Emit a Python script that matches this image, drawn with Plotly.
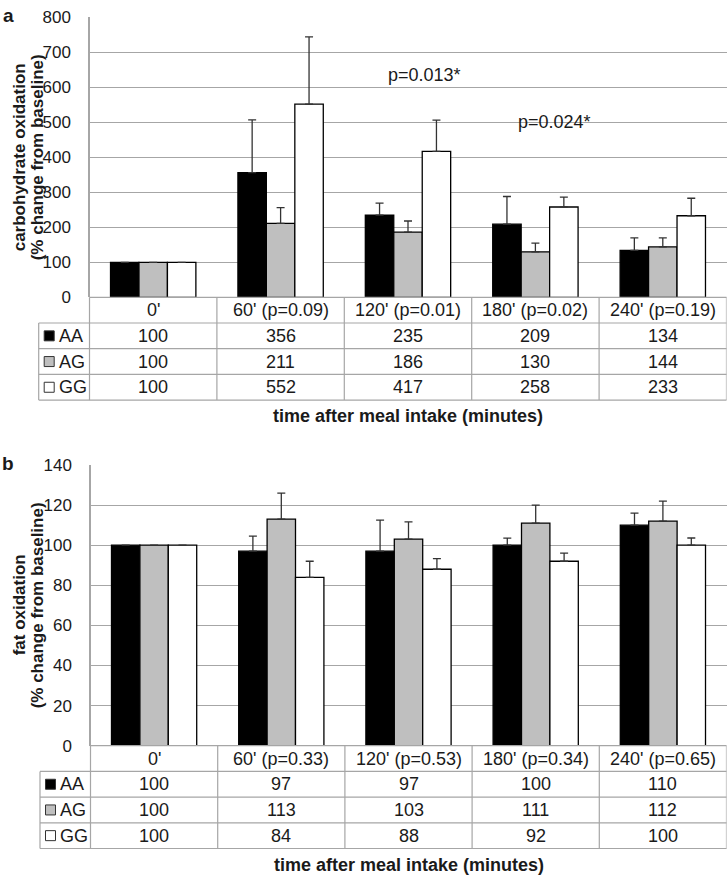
import plotly.graph_objects as go

# ---------------- data ----------------
time_points = ["0'", "60'", "120'", "180'", "240'"]
genotypes = ["AA", "AG", "GG"]

# panel a: carbohydrate oxidation
carb_pvals = ["", "0.09", "0.01", "0.02", "0.19"]
carb_AA = [100, 356, 235, 209, 134]
carb_AG = [100, 211, 186, 130, 144]
carb_GG = [100, 552, 417, 258, 233]
carb_AA_err = [0, 151, 34, 79, 36]
carb_AG_err = [0, 45, 32, 25, 26]
carb_GG_err = [0, 192, 89, 28, 50]

# panel b: fat oxidation
fat_pvals = ["", "0.33", "0.53", "0.34", "0.65"]
fat_AA = [100, 97, 97, 100, 110]
fat_AG = [100, 113, 103, 111, 112]
fat_GG = [100, 84, 88, 92, 100]
fat_AA_err = [0, 7.5, 15.5, 3.5, 6]
fat_AG_err = [0, 13, 8.6, 9, 10]
fat_GG_err = [0, 8, 5.3, 4, 3.6]

# ---------------- styling / layout constants ----------------
W, H = 728, 875
FONT = "Liberation Sans, Arial, sans-serif"
TXT = "#1a1a1a"
GRID = "#a6a6a6"
FILLS = {"AA": "#000000", "AG": "#bfbfbf", "GG": "#ffffff"}
ROW_H = 25.7


def px(xp):
    return xp / W


def py(yp):
    return 1 - yp / H


def ann(**kw):
    d = dict(showarrow=False, xanchor="center", yanchor="middle")
    d.update(kw)
    return d


panels = [
    dict(letter="a", xa="x", ya="y", top=17.3, bottom=297.3, left=89.5, right=726.5,
         tleft=38.7, yrange=[0, 800], dtick=100,
         ytitle=["carbohydrate oxidation", "(% change from baseline)"],
         series=[carb_AA, carb_AG, carb_GG],
         errs=[carb_AA_err, carb_AG_err, carb_GG_err], pvals=carb_pvals),
    dict(letter="b", xa="x2", ya="y2", top=465.0, bottom=745.7, left=90.5, right=726.5,
         tleft=40.0, yrange=[0, 140], dtick=20,
         ytitle=["fat oxidation", "(% change from baseline)"],
         series=[fat_AA, fat_AG, fat_GG],
         errs=[fat_AA_err, fat_AG_err, fat_GG_err], pvals=fat_pvals),
]

fig = go.Figure()
shapes = []
annotations = []

for k, p in enumerate(panels):
    sfx = "" if k == 0 else "2"
    for g, vals, err in zip(genotypes, p["series"], p["errs"]):
        fig.add_trace(go.Bar(
            x=time_points, y=vals, name=g, xaxis=p["xa"], yaxis=p["ya"],
            marker=dict(color=FILLS[g], line=dict(color="#000000", width=1.3)),
            error_y=dict(type="data", array=err, arrayminus=[0] * len(err),
                         symmetric=False, color="#333333", thickness=1.3, width=4),
            showlegend=False, hoverinfo="skip",
        ))

    fig.update_layout(**{
        "xaxis" + sfx: dict(domain=[px(p["left"]), px(p["right"])],
                            anchor="y" + sfx, type="category", automargin=False,
                            range=[-0.5, len(time_points) - 0.5],
                            showticklabels=False, showgrid=False, zeroline=False,
                            showline=False, ticks=""),
        "yaxis" + sfx: dict(domain=[py(p["bottom"]), py(p["top"])],
                            anchor="x" + sfx, range=p["yrange"], dtick=p["dtick"],
                            automargin=False,
                            showgrid=True, gridcolor=GRID, gridwidth=1.2,
                            zeroline=False, showline=True, linecolor=GRID,
                            linewidth=1.2, ticks="outside", ticklen=14,
                            tickcolor="rgba(0,0,0,0)",
                            tickfont=dict(family=FONT, size=17, color=TXT)),
    })

    xr = p["xa"]
    b = p["bottom"]
    rows_y = [b + i * ROW_H for i in range(5)]
    line = dict(color=GRID, width=1.2)
    # horizontal table lines
    shapes.append(dict(type="line", xref="paper", yref="paper",
                       x0=px(p["left"]), x1=px(p["right"]), y0=py(b), y1=py(b), line=line))
    for yy in rows_y[1:]:
        shapes.append(dict(type="line", xref="paper", yref="paper",
                           x0=px(p["tleft"]), x1=px(p["right"]), y0=py(yy), y1=py(yy), line=line))
    # vertical table lines
    shapes.append(dict(type="line", xref="paper", yref="paper",
                       x0=px(p["tleft"]), x1=px(p["tleft"]), y0=py(rows_y[1]), y1=py(rows_y[4]), line=line))
    shapes.append(dict(type="line", xref="paper", yref="paper",
                       x0=px(p["left"]), x1=px(p["left"]), y0=py(b), y1=py(rows_y[4]), line=line))
    for i in range(len(time_points)):
        shapes.append(dict(type="line", xref=xr, yref="paper",
                           x0=i + 0.5, x1=i + 0.5, y0=py(b), y1=py(rows_y[4]), line=line))

    # header cells
    for i, (t, pv) in enumerate(zip(time_points, p["pvals"])):
        label = t if not pv else f"{t} (p={pv})"
        annotations.append(ann(x=i, y=py(b + ROW_H / 2), xref=xr, yref="paper",
                               text=label, font=dict(family=FONT, size=18, color=TXT)))
    # value rows
    for r, (g, vals) in enumerate(zip(genotypes, p["series"])):
        yc = b + ROW_H * (r + 1.5)
        for i, v in enumerate(vals):
            annotations.append(ann(x=i, y=py(yc), xref=xr, yref="paper",
                                   text=str(v), font=dict(family=FONT, size=18, color=TXT)))
        # legend key
        kx = p["tleft"] + 5.5
        shapes.append(dict(type="rect", xref="paper", yref="paper",
                           x0=px(kx), x1=px(kx + 10), y0=py(yc - 5), y1=py(yc + 5),
                           fillcolor=FILLS[g], line=dict(color="#333333", width=1)))
        annotations.append(ann(x=px(kx + 12.5), y=py(yc), xref="paper", yref="paper",
                               text=g, xanchor="left",
                               font=dict(family=FONT, size=18, color=TXT)))

    # x title
    annotations.append(ann(x=px((p["left"] + p["right"]) / 2), y=py(rows_y[4] + 16),
                           xref="paper", yref="paper",
                           text="<b>time after meal intake (minutes)</b>",
                           font=dict(family=FONT, size=18, color=TXT)))
    # y title (two lines)
    yc = (p["top"] + p["bottom"]) / 2
    for j, (txt, xx) in enumerate(zip(p["ytitle"], [19, 37])):
        annotations.append(ann(x=px(xx), y=py(yc), xref="paper", yref="paper",
                               text=f"<b>{txt}</b>", textangle=-90,
                               font=dict(family=FONT, size=17, color=TXT)))
    # panel letter
    annotations.append(ann(x=px(8), y=py(p["top"] - 2), xref="paper", yref="paper",
                           text=f"<b>{p['letter']}</b>",
                           font=dict(family=FONT, size=19, color=TXT)))

# significance annotations on panel a
annotations.append(ann(x=2.13, y=634, xref="x", yref="y", text="p=0.013*",
                       font=dict(family=FONT, size=18, color=TXT)))
annotations.append(ann(x=3.15, y=501, xref="x", yref="y", text="p=0.024*",
                       font=dict(family=FONT, size=18, color=TXT)))

fig.update_layout(
    width=W, height=H, margin=dict(l=0, r=0, t=0, b=0, autoexpand=False),
    paper_bgcolor="white", plot_bgcolor="white",
    barmode="group", bargap=0.33, bargroupgap=0,
    shapes=shapes, annotations=annotations,
    font=dict(family=FONT, color=TXT), hovermode=False,
)

fig.write_html("out.html",
               config={"displayModeBar": False, "staticPlot": True},
               post_script="document.body.style.margin='0';document.body.style.overflow='hidden';")
